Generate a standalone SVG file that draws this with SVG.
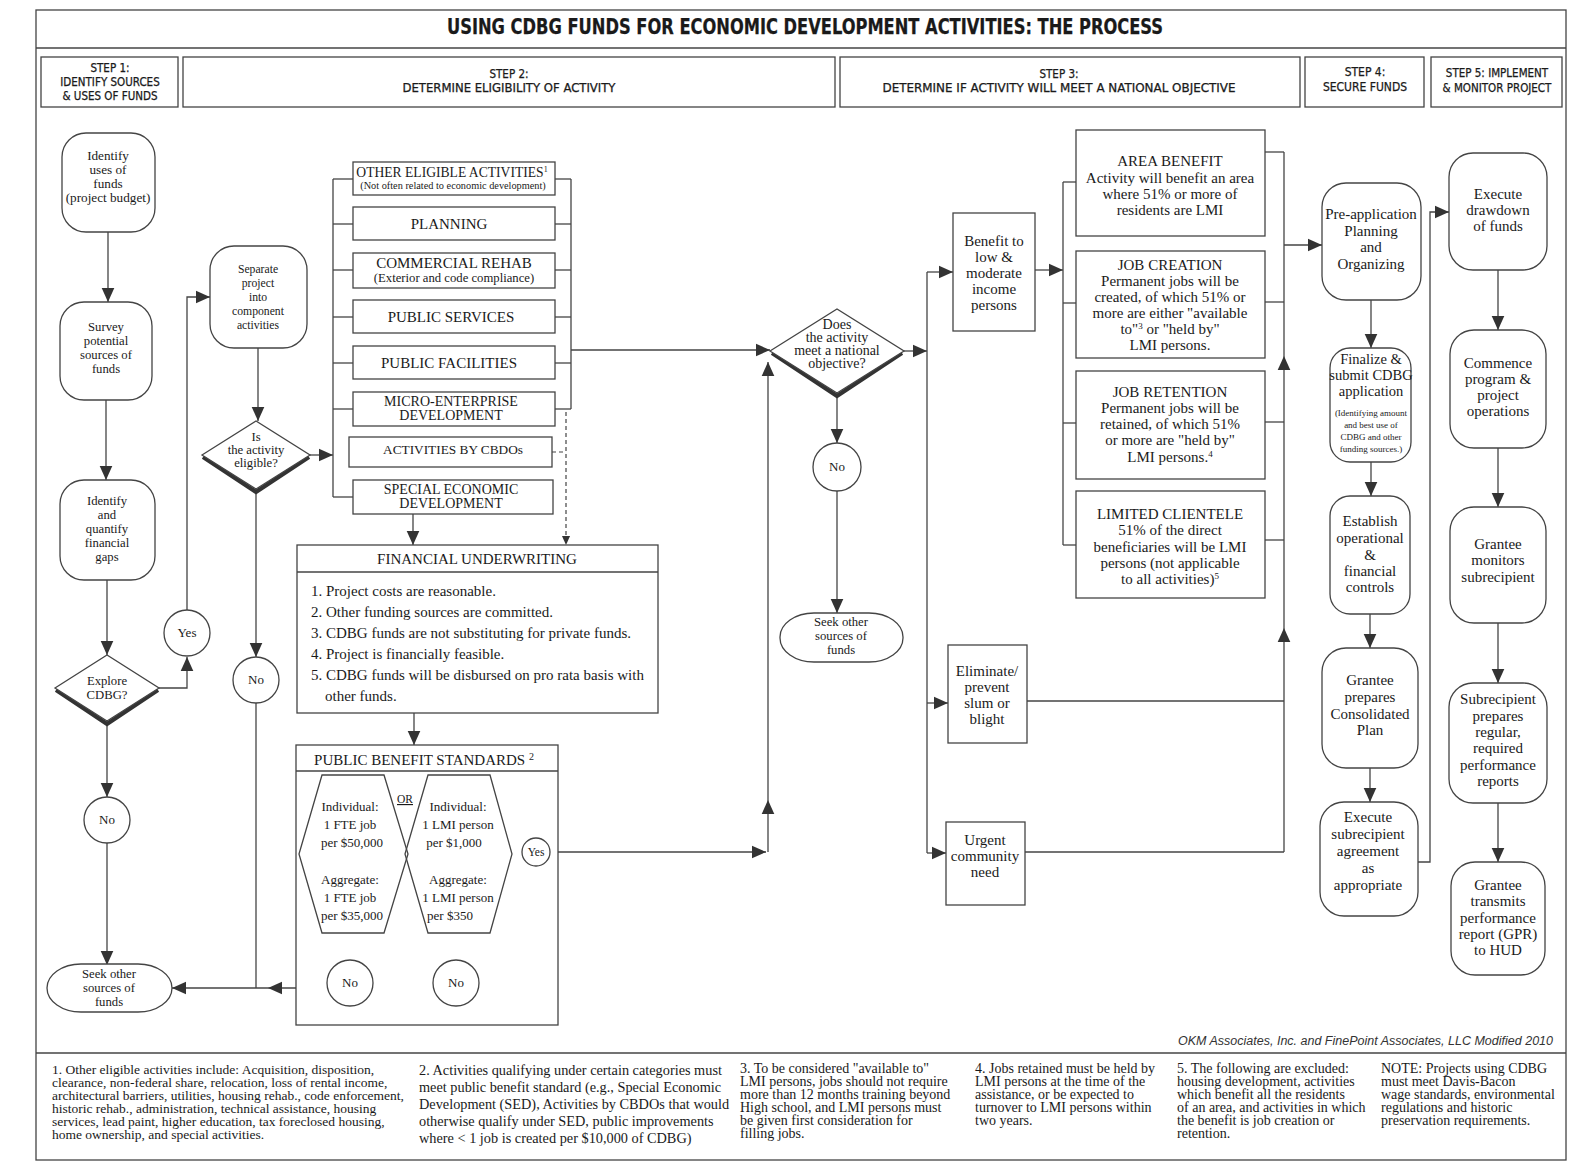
<svg xmlns="http://www.w3.org/2000/svg" width="1571" height="1161" viewBox="0 0 1571 1161">
<style>
.ln{stroke:#444;stroke-width:1.3;fill:none}
.dash{stroke:#444;stroke-width:1.2;fill:none;stroke-dasharray:4 3}
.arr{marker-end:url(#ah)}
.box{fill:#fff;stroke:#444;stroke-width:1.3}
.sh{fill:none;stroke:#333;stroke-width:4;stroke-linejoin:miter}
.t{font-family:'Liberation Serif','Times New Roman',serif;fill:#1a1a1a;text-anchor:middle}
.tl{font-family:'Liberation Serif','Times New Roman',serif;fill:#1a1a1a}
.h{font-family:'DejaVu Sans Condensed','Liberation Sans Narrow','Liberation Sans',sans-serif;fill:#1a1a1a;text-anchor:middle;stroke:#1a1a1a;stroke-width:0.25}
.s12{font-size:12.7px}.s13{font-size:13px}.s15{font-size:15px}
</style>
<defs>
<marker id="ah" viewBox="0 0 10 10" refX="10" refY="5" markerWidth="14" markerHeight="14" markerUnits="userSpaceOnUse" orient="auto"><path d="M0,0.5 L10,5 L0,9.5 z" fill="#333"/></marker>
<marker id="ahs" viewBox="0 0 10 10" refX="10" refY="5" markerWidth="9" markerHeight="9" markerUnits="userSpaceOnUse" orient="auto"><path d="M0,0.5 L10,5 L0,9.5 z" fill="#333"/></marker>
</defs>
<rect width="1571" height="1161" fill="#fff"/>

<g id="frame">
<rect x="36" y="10" width="1530" height="1150" fill="none" stroke="#444" stroke-width="1.3"/>
<line x1="36" y1="48" x2="1566" y2="48" class="ln"/>
<line x1="36" y1="1053" x2="1566" y2="1053" class="ln"/>
<text x="805" y="34" class="h" font-size="22" font-weight="bold" textLength="716" lengthAdjust="spacingAndGlyphs">USING CDBG FUNDS FOR ECONOMIC DEVELOPMENT ACTIVITIES: THE PROCESS</text>
<text x="1553" y="1045" font-family="'Liberation Sans',Arial,sans-serif" font-size="12.5" font-style="italic" fill="#333" text-anchor="end">OKM Associates, Inc. and FinePoint Associates, LLC Modified 2010</text>
</g>

<g id="headers">
<g id="step1"><rect x="41" y="57" width="137" height="50" class="box"/>
<text class="h" font-size="11.5"><tspan x="110" y="72">STEP 1:</tspan><tspan x="110" y="86">IDENTIFY SOURCES</tspan><tspan x="110" y="100">&amp; USES OF FUNDS</tspan></text></g>
<g id="step2"><rect x="183" y="57" width="652" height="50" class="box"/>
<text class="h" font-size="11.5"><tspan x="509" y="78">STEP 2:</tspan><tspan x="509" y="92" textLength="213" lengthAdjust="spacingAndGlyphs">DETERMINE ELIGIBILITY OF ACTIVITY</tspan></text></g>
<g id="step3"><rect x="840" y="57" width="460" height="50" class="box"/>
<text class="h" font-size="11.5"><tspan x="1059" y="78">STEP 3:</tspan><tspan x="1059" y="92" textLength="353" lengthAdjust="spacingAndGlyphs">DETERMINE IF ACTIVITY WILL MEET A NATIONAL OBJECTIVE</tspan></text></g>
<g id="step4"><rect x="1305" y="57" width="119" height="50" class="box"/>
<text class="h" font-size="12"><tspan x="1365" y="76">STEP 4:</tspan><tspan x="1365" y="91">SECURE FUNDS</tspan></text></g>
<g id="step5"><rect x="1431" y="57" width="131" height="50" class="box"/>
<text class="h" font-size="11.5"><tspan x="1497" y="77">STEP 5: IMPLEMENT</tspan><tspan x="1497" y="92">&amp; MONITOR PROJECT</tspan></text></g>
</g>

<g id="connectors">
<line x1="108" y1="232" x2="108" y2="302" class="ln arr"/>
<line x1="106" y1="400" x2="106" y2="480" class="ln arr"/>
<line x1="107" y1="580" x2="107" y2="655" class="ln arr"/>
<polyline points="159,688 187,688 187,657" class="ln arr"/>
<polyline points="187,610 187,297 210,297" class="ln arr"/>
<line x1="107" y1="721" x2="107" y2="797" class="ln arr"/>
<line x1="107" y1="843" x2="107" y2="965" class="ln arr"/>
<line x1="258" y1="348" x2="258" y2="421" class="ln arr"/>
<line x1="310" y1="455" x2="333" y2="455" class="ln arr"/>
<line x1="256" y1="489" x2="256" y2="657" class="ln arr"/>
<line x1="256" y1="703" x2="256" y2="988" class="ln"/>
<line x1="327" y1="988" x2="268" y2="988" class="ln arr"/>
<line x1="268" y1="988" x2="172" y2="988" class="ln arr"/>
<line x1="433" y1="983" x2="390" y2="983" class="ln arr"/>
<line x1="390" y1="983" x2="373" y2="983" class="ln"/>
<line x1="333" y1="179" x2="333" y2="497" class="ln"/>
<line x1="333" y1="179" x2="353" y2="179" class="ln"/>
<line x1="333" y1="224" x2="353" y2="224" class="ln"/>
<line x1="333" y1="270" x2="353" y2="270" class="ln"/>
<line x1="333" y1="317" x2="353" y2="317" class="ln"/>
<line x1="333" y1="363" x2="353" y2="363" class="ln"/>
<line x1="333" y1="409" x2="353" y2="409" class="ln"/>
<line x1="333" y1="497" x2="353" y2="497" class="ln"/>
<line x1="571" y1="179" x2="571" y2="409" class="ln"/>
<line x1="555" y1="179" x2="571" y2="179" class="ln"/>
<line x1="555" y1="224" x2="571" y2="224" class="ln"/>
<line x1="555" y1="270" x2="571" y2="270" class="ln"/>
<line x1="555" y1="317" x2="571" y2="317" class="ln"/>
<line x1="555" y1="363" x2="571" y2="363" class="ln"/>
<line x1="555" y1="409" x2="571" y2="409" class="ln"/>
<line x1="552" y1="452" x2="566" y2="452" class="dash"/>
<line x1="566" y1="412" x2="566" y2="545" class="dash" style="marker-end:url(#ahs)"/>
<line x1="413" y1="514" x2="413" y2="545" class="ln arr"/>
<line x1="571" y1="350" x2="770" y2="350" class="ln arr"/>
<line x1="414" y1="713" x2="414" y2="745" class="ln arr"/>
<line x1="350" y1="933" x2="350" y2="960" class="ln"/>
<line x1="456" y1="933" x2="456" y2="960" class="ln"/>
<line x1="512" y1="852" x2="522" y2="852" class="ln"/>
<line x1="550" y1="852" x2="766" y2="852" class="ln arr"/>
<line x1="768" y1="852" x2="768" y2="800" class="ln arr"/>
<line x1="768" y1="800" x2="768" y2="362" class="ln arr"/>
<line x1="904" y1="351" x2="927" y2="351" class="ln arr"/>
<line x1="927" y1="272" x2="927" y2="853" class="ln"/>
<line x1="927" y1="272" x2="953" y2="272" class="ln arr"/>
<line x1="927" y1="703" x2="948" y2="703" class="ln arr"/>
<line x1="927" y1="853" x2="946" y2="853" class="ln arr"/>
<line x1="837" y1="393" x2="837" y2="443" class="ln arr"/>
<line x1="837" y1="491" x2="837" y2="613" class="ln arr"/>
<line x1="1035" y1="270" x2="1063" y2="270" class="ln arr"/>
<line x1="1063" y1="182" x2="1063" y2="545" class="ln"/>
<line x1="1063" y1="182" x2="1076" y2="182" class="ln"/>
<line x1="1063" y1="303" x2="1076" y2="303" class="ln"/>
<line x1="1063" y1="423" x2="1076" y2="423" class="ln"/>
<line x1="1063" y1="545" x2="1076" y2="545" class="ln"/>
<line x1="1265" y1="152" x2="1284" y2="152" class="ln"/>
<line x1="1265" y1="302" x2="1284" y2="302" class="ln"/>
<line x1="1265" y1="422" x2="1284" y2="422" class="ln"/>
<line x1="1265" y1="540" x2="1284" y2="540" class="ln"/>
<line x1="1027" y1="701" x2="1284" y2="701" class="ln"/>
<line x1="1025" y1="852" x2="1284" y2="852" class="ln"/>
<line x1="1284" y1="852" x2="1284" y2="628" class="ln arr"/>
<line x1="1284" y1="628" x2="1284" y2="356" class="ln arr"/>
<line x1="1284" y1="356" x2="1284" y2="152" class="ln"/>
<line x1="1284" y1="245" x2="1322" y2="245" class="ln arr"/>
<line x1="1371" y1="300" x2="1371" y2="348" class="ln arr"/>
<line x1="1371" y1="462" x2="1371" y2="496" class="ln arr"/>
<line x1="1370" y1="614" x2="1370" y2="648" class="ln arr"/>
<line x1="1370" y1="768" x2="1370" y2="802" class="ln arr"/>
<polyline points="1418,862 1430,862 1430,212 1449,212" class="ln arr"/>
<line x1="1498" y1="270" x2="1498" y2="330" class="ln arr"/>
<line x1="1498" y1="448" x2="1498" y2="507" class="ln arr"/>
<line x1="1498" y1="623" x2="1498" y2="683" class="ln arr"/>
<line x1="1498" y1="803" x2="1498" y2="862" class="ln arr"/>
</g>

<g id="n-identify-uses"><rect x="62" y="133" width="93" height="99" rx="24" class="box"/>
<text class="t" font-size="13.2"><tspan x="108" y="160">Identify</tspan><tspan x="108" y="174">uses of</tspan><tspan x="108" y="188">funds</tspan><tspan x="108" y="202">(project budget)</tspan></text></g>
<g id="n-survey"><rect x="60" y="302" width="92" height="98" rx="24" class="box"/>
<text class="t s12"><tspan x="106" y="331">Survey</tspan><tspan x="106" y="345">potential</tspan><tspan x="106" y="359">sources of</tspan><tspan x="106" y="373">funds</tspan></text></g>
<g id="n-gaps"><rect x="60" y="480" width="95" height="100" rx="24" class="box"/>
<text class="t s12"><tspan x="107" y="505">Identify</tspan><tspan x="107" y="519">and</tspan><tspan x="107" y="533">quantify</tspan><tspan x="107" y="547">financial</tspan><tspan x="107" y="561">gaps</tspan></text></g>
<g id="n-explore"><polyline points="56,690 107,724 158,690" class="sh"/><polygon points="55,688 107,655 159,688 107,721" class="box"/>
<text class="t s12"><tspan x="107" y="685">Explore</tspan><tspan x="107" y="699">CDBG?</tspan></text></g>
<g id="n-yes1"><circle cx="187" cy="633" r="23" class="box"/><text x="187" y="637" class="t s13">Yes</text></g>
<g id="n-no1"><circle cx="107" cy="820" r="23" class="box"/><text x="107" y="824" class="t s13">No</text></g>
<g id="n-seek1"><rect x="47" y="964" width="125" height="48" rx="34" ry="24" class="box"/>
<text class="t s12"><tspan x="109" y="978">Seek other</tspan><tspan x="109" y="992">sources of</tspan><tspan x="109" y="1006">funds</tspan></text></g>
<g id="n-separate"><rect x="210" y="246" width="97" height="102" rx="24" class="box"/>
<text class="t" font-size="11.7"><tspan x="258" y="273">Separate</tspan><tspan x="258" y="287">project</tspan><tspan x="258" y="301">into</tspan><tspan x="258" y="315">component</tspan><tspan x="258" y="329">activities</tspan></text></g>
<g id="n-eligible"><polyline points="203,457 256,492 309,457" class="sh"/><polygon points="202,455 256,421 310,455 256,489" class="box"/>
<text class="t s12"><tspan x="256" y="441">Is</tspan><tspan x="256" y="454">the activity</tspan><tspan x="256" y="467">eligible?</tspan></text></g>
<g id="n-no2"><circle cx="256" cy="680" r="23" class="box"/><text x="256" y="684" class="t s13">No</text></g>

<g id="n-activities">
<rect x="353" y="162" width="202" height="33" class="box"/>
<text x="452" y="177" class="t" font-size="13.6">OTHER ELIGIBLE ACTIVITIES<tspan font-size="8" dy="-5">1</tspan></text>
<text x="453" y="189" class="t" font-size="10.3">(Not often related to economic development)</text>
<rect x="353" y="207" width="202" height="33" class="box"/>
<text x="449" y="229" class="t s15">PLANNING</text>
<rect x="353" y="253" width="202" height="35" class="box"/>
<text x="454" y="268" class="t s15">COMMERCIAL REHAB</text>
<text x="454" y="282" class="t s12">(Exterior and code compliance)</text>
<rect x="353" y="300" width="202" height="33" class="box"/>
<text x="451" y="322" class="t s15">PUBLIC SERVICES</text>
<rect x="353" y="346" width="202" height="33" class="box"/>
<text x="449" y="368" class="t s15">PUBLIC FACILITIES</text>
<rect x="353" y="392" width="202" height="34" class="box"/>
<text class="t" font-size="14"><tspan x="451" y="406">MICRO-ENTERPRISE</tspan><tspan x="451" y="420">DEVELOPMENT</tspan></text>
<rect x="349" y="437" width="203" height="30" class="box"/>
<text x="453" y="454" class="t" font-size="13.3">ACTIVITIES BY CBDOs</text>
<rect x="353" y="480" width="200" height="34" class="box"/>
<text class="t" font-size="14"><tspan x="451" y="494">SPECIAL ECONOMIC</tspan><tspan x="451" y="508">DEVELOPMENT</tspan></text>
</g>

<g id="n-underwriting"><rect x="297" y="545" width="361" height="168" class="box"/>
<line x1="297" y1="572" x2="658" y2="572" class="ln"/>
<text x="477" y="564" class="t s15">FINANCIAL UNDERWRITING</text>
<text class="tl" font-size="15"><tspan x="311" y="596">1. Project costs are reasonable.</tspan><tspan x="311" y="617">2. Other funding sources are committed.</tspan><tspan x="311" y="638">3. CDBG funds are not substituting for private funds.</tspan><tspan x="311" y="659">4. Project is financially feasible.</tspan><tspan x="311" y="680">5. CDBG funds will be disbursed on pro rata basis with</tspan><tspan x="325" y="701">other funds.</tspan></text></g>

<g id="n-publicbenefit"><rect x="296" y="745" width="262" height="280" class="box"/>
<line x1="296" y1="771" x2="558" y2="771" class="ln"/>
<text x="424" y="765" class="t s15">PUBLIC BENEFIT STANDARDS <tspan font-size="10" dy="-5">2</tspan></text>
<polygon points="322,775 384,775 408,854 384,933 322,933 299,854" class="box" style="fill:none"/>
<polygon points="428,775 490,775 512,854 490,933 428,933 405,854" class="box" style="fill:none"/>
<text x="405" y="803" class="t" font-size="11.5" text-decoration="underline">OR</text>
<text class="t s13"><tspan x="350" y="811">Individual:</tspan><tspan x="350" y="829">1 FTE job</tspan><tspan x="352" y="847">per $50,000</tspan><tspan x="350" y="884">Aggregate:</tspan><tspan x="350" y="902">1 FTE job</tspan><tspan x="352" y="920">per $35,000</tspan></text>
<text class="t s13"><tspan x="458" y="811">Individual:</tspan><tspan x="458" y="829">1 LMI person</tspan><tspan x="454" y="847">per $1,000</tspan><tspan x="458" y="884">Aggregate:</tspan><tspan x="458" y="902">1 LMI person</tspan><tspan x="450" y="920">per $350</tspan></text>
</g>
<g id="n-yes2"><circle cx="536" cy="852" r="14" class="box"/><text x="536" y="856" class="t" font-size="11.5">Yes</text></g>
<g id="n-no3"><circle cx="350" cy="983" r="23" class="box"/><text x="350" y="987" class="t s13">No</text></g>
<g id="n-no4"><circle cx="456" cy="983" r="23" class="box"/><text x="456" y="987" class="t s13">No</text></g>

<g id="n-national"><polyline points="772,353 837,396 902,353" class="sh"/><polygon points="770,351 837,309 904,351 837,393" class="box"/>
<text class="t" font-size="14"><tspan x="837" y="329">Does</tspan><tspan x="837" y="342">the activity</tspan><tspan x="837" y="355">meet a national</tspan><tspan x="837" y="368">objective?</tspan></text></g>
<g id="n-no5"><circle cx="837" cy="467" r="24" class="box"/><text x="837" y="471" class="t s13">No</text></g>
<g id="n-seek2"><rect x="780" y="613" width="123" height="49" rx="34" ry="24" class="box"/>
<text class="t s12"><tspan x="841" y="626">Seek other</tspan><tspan x="841" y="640">sources of</tspan><tspan x="841" y="654">funds</tspan></text></g>

<g id="n-benefit"><rect x="953" y="213" width="82" height="118" class="box"/>
<text class="t s15"><tspan x="994" y="246">Benefit to</tspan><tspan x="994" y="262">low &amp;</tspan><tspan x="994" y="278">moderate</tspan><tspan x="994" y="294">income</tspan><tspan x="994" y="310">persons</tspan></text></g>
<g id="n-slum"><rect x="948" y="645" width="79" height="98" class="box"/>
<text class="t s15"><tspan x="987" y="676">Eliminate/</tspan><tspan x="987" y="692">prevent</tspan><tspan x="987" y="708">slum or</tspan><tspan x="987" y="724">blight</tspan></text></g>
<g id="n-urgent"><rect x="946" y="822" width="79" height="83" class="box"/>
<text class="t s15"><tspan x="985" y="845">Urgent</tspan><tspan x="985" y="861">community</tspan><tspan x="985" y="877">need</tspan></text></g>

<g id="n-area"><rect x="1076" y="130" width="189" height="106" class="box"/>
<text class="t s15"><tspan x="1170" y="166">AREA BENEFIT</tspan><tspan x="1170" y="183">Activity will benefit an area</tspan><tspan x="1170" y="199">where 51% or more of</tspan><tspan x="1170" y="215">residents are LMI</tspan></text></g>
<g id="n-jobcreation"><rect x="1076" y="251" width="189" height="107" class="box"/>
<text class="t s15"><tspan x="1170" y="270">JOB CREATION</tspan><tspan x="1170" y="286">Permanent jobs will be</tspan><tspan x="1170" y="302">created, of which 51% or</tspan><tspan x="1170" y="318">more are either "available</tspan><tspan x="1170" y="334">to"<tspan font-size="9" dy="-5">3</tspan><tspan dy="5"> or "held by"</tspan></tspan><tspan x="1170" y="350">LMI persons.</tspan></text></g>
<g id="n-jobretention"><rect x="1076" y="371" width="189" height="108" class="box"/>
<text class="t s15"><tspan x="1170" y="397">JOB RETENTION</tspan><tspan x="1170" y="413">Permanent jobs will be</tspan><tspan x="1170" y="429">retained, of  which 51%</tspan><tspan x="1170" y="445">or more are "held by"</tspan><tspan x="1170" y="462">LMI persons.<tspan font-size="9" dy="-5">4</tspan></tspan></text></g>
<g id="n-clientele"><rect x="1076" y="491" width="189" height="107" class="box"/>
<text class="t s15"><tspan x="1170" y="519">LIMITED CLIENTELE</tspan><tspan x="1170" y="535">51% of the direct</tspan><tspan x="1170" y="552">beneficiaries will be LMI</tspan><tspan x="1170" y="568">persons (not applicable</tspan><tspan x="1170" y="584">to all activities)<tspan font-size="9" dy="-5">5</tspan></tspan></text></g>

<g id="n-preapp"><rect x="1322" y="183" width="99" height="117" rx="24" class="box"/>
<text class="t s15"><tspan x="1371" y="219">Pre-application</tspan><tspan x="1371" y="236">Planning</tspan><tspan x="1371" y="252">and</tspan><tspan x="1371" y="269">Organizing</tspan></text></g>
<g id="n-finalize"><rect x="1330" y="348" width="81" height="114" rx="20" class="box"/>
<text class="t" font-size="14.5"><tspan x="1371" y="364">Finalize &amp;</tspan><tspan x="1371" y="380">submit CDBG</tspan><tspan x="1371" y="396">application</tspan></text>
<text class="t" font-size="9"><tspan x="1371" y="416">(Identifying amount</tspan><tspan x="1371" y="428">and best use of</tspan><tspan x="1371" y="440">CDBG and other</tspan><tspan x="1371" y="452">funding sources.)</tspan></text></g>
<g id="n-establish"><rect x="1330" y="496" width="80" height="118" rx="20" class="box"/>
<text class="t s15"><tspan x="1370" y="526">Establish</tspan><tspan x="1370" y="543">operational</tspan><tspan x="1370" y="560">&amp;</tspan><tspan x="1370" y="576">financial</tspan><tspan x="1370" y="592">controls</tspan></text></g>
<g id="n-consolidated"><rect x="1322" y="648" width="96" height="120" rx="24" class="box"/>
<text class="t s15"><tspan x="1370" y="685">Grantee</tspan><tspan x="1370" y="702">prepares</tspan><tspan x="1370" y="719">Consolidated</tspan><tspan x="1370" y="735">Plan</tspan></text></g>
<g id="n-subagreement"><rect x="1320" y="802" width="98" height="114" rx="24" class="box"/>
<text class="t s15"><tspan x="1368" y="822">Execute</tspan><tspan x="1368" y="839">subrecipient</tspan><tspan x="1368" y="856">agreement</tspan><tspan x="1368" y="873">as</tspan><tspan x="1368" y="890">appropriate</tspan></text></g>

<g id="n-drawdown"><rect x="1449" y="153" width="98" height="117" rx="24" class="box"/>
<text class="t s15"><tspan x="1498" y="199">Execute</tspan><tspan x="1498" y="215">drawdown</tspan><tspan x="1498" y="231">of funds</tspan></text></g>
<g id="n-commence"><rect x="1450" y="330" width="96" height="118" rx="24" class="box"/>
<text class="t s15"><tspan x="1498" y="368">Commence</tspan><tspan x="1498" y="384">program &amp;</tspan><tspan x="1498" y="400">project</tspan><tspan x="1498" y="416">operations</tspan></text></g>
<g id="n-monitors"><rect x="1450" y="507" width="96" height="116" rx="24" class="box"/>
<text class="t s15"><tspan x="1498" y="549">Grantee</tspan><tspan x="1498" y="565">monitors</tspan><tspan x="1498" y="582">subrecipient</tspan></text></g>
<g id="n-reports"><rect x="1449" y="683" width="98" height="120" rx="24" class="box"/>
<text class="t s15"><tspan x="1498" y="704">Subrecipient</tspan><tspan x="1498" y="721">prepares</tspan><tspan x="1498" y="737">regular,</tspan><tspan x="1498" y="753">required</tspan><tspan x="1498" y="770">performance</tspan><tspan x="1498" y="786">reports</tspan></text></g>
<g id="n-gpr"><rect x="1451" y="862" width="94" height="113" rx="24" class="box"/>
<text class="t s15"><tspan x="1498" y="890">Grantee</tspan><tspan x="1498" y="906">transmits</tspan><tspan x="1498" y="923">performance</tspan><tspan x="1498" y="939">report (GPR)</tspan><tspan x="1498" y="955">to HUD</tspan></text></g>

<g id="footnotes">
<text class="tl" font-size="13.5"><tspan x="52" y="1074">1. Other eligible activities include: Acquisition, disposition,</tspan><tspan x="52" y="1087">clearance, non-federal share, relocation, loss of rental income,</tspan><tspan x="52" y="1100">architectural barriers, utilities, housing rehab., code enforcement,</tspan><tspan x="52" y="1113">historic rehab., administration, technical assistance, housing</tspan><tspan x="52" y="1126">services, lead paint, higher education, tax foreclosed housing,</tspan><tspan x="52" y="1139">home ownership, and special activities.</tspan></text>
<text class="tl" font-size="14.3"><tspan x="419" y="1075">2. Activities qualifying under certain categories must</tspan><tspan x="419" y="1092">meet public benefit standard (e.g., Special Economic</tspan><tspan x="419" y="1109">Development (SED), Activities by CBDOs that would</tspan><tspan x="419" y="1126">otherwise qualify under SED, public improvements</tspan><tspan x="419" y="1143">where &lt; 1 job is created per $10,000 of CDBG)</tspan></text>
<text class="tl" font-size="14"><tspan x="740" y="1073">3. To be considered "available to"</tspan><tspan x="740" y="1086">LMI persons, jobs should not require</tspan><tspan x="740" y="1099">more than 12 months training beyond</tspan><tspan x="740" y="1112">High school, and LMI persons must</tspan><tspan x="740" y="1125">be given first consideration for</tspan><tspan x="740" y="1138">filling jobs.</tspan></text>
<text class="tl" font-size="14"><tspan x="975" y="1073">4. Jobs retained must be held by</tspan><tspan x="975" y="1086">LMI persons at the time of the</tspan><tspan x="975" y="1099">assistance, or be expected to</tspan><tspan x="975" y="1112">turnover to LMI persons within</tspan><tspan x="975" y="1125">two years.</tspan></text>
<text class="tl" font-size="14"><tspan x="1177" y="1073">5. The following are excluded:</tspan><tspan x="1177" y="1086">housing development, activities</tspan><tspan x="1177" y="1099">which benefit all the residents</tspan><tspan x="1177" y="1112">of an area, and activities in which</tspan><tspan x="1177" y="1125">the benefit is job creation or</tspan><tspan x="1177" y="1138">retention.</tspan></text>
<text class="tl" font-size="14"><tspan x="1381" y="1073">NOTE: Projects using CDBG</tspan><tspan x="1381" y="1086">must meet Davis-Bacon</tspan><tspan x="1381" y="1099">wage standards, environmental</tspan><tspan x="1381" y="1112">regulations and historic</tspan><tspan x="1381" y="1125">preservation requirements.</tspan></text>
</g>
</svg>
